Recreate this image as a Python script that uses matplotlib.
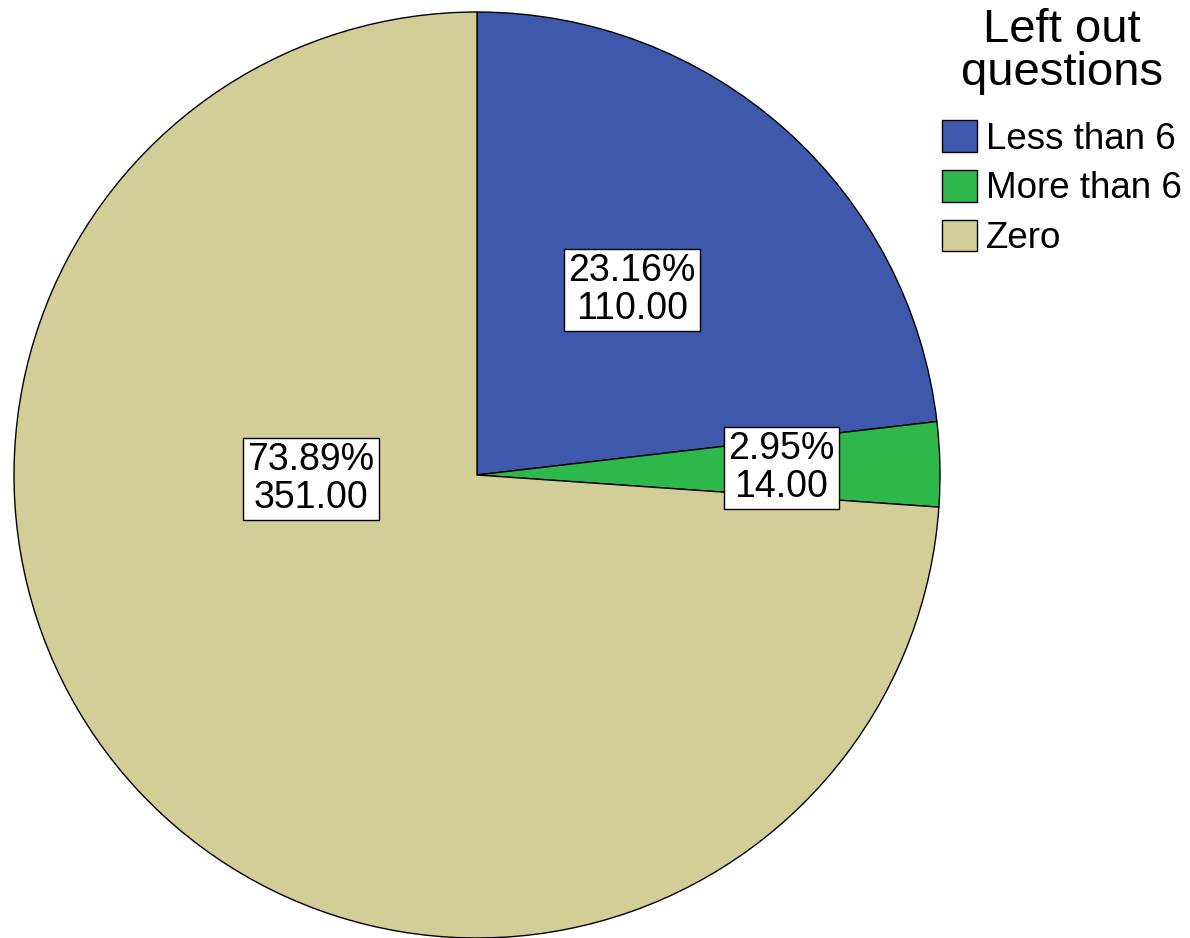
import matplotlib.pyplot as plt

plt.rcParams['font.family'] = ['Liberation Sans', 'DejaVu Sans']

categories = ['Less than 6', 'More than 6', 'Zero']
counts = [110, 14, 351]
percents = [23.16, 2.95, 73.89]
colors = ['#3E58AC', '#2EB84B', '#D3CE97']
# label box centres, in pie data units (radius = 1)
label_pos = [(0.335, 0.40), (0.657, 0.015), (-0.359, -0.009)]

W, H = 1190, 938
fig = plt.figure(figsize=(W / 100, H / 100), dpi=100)

# pie centre and radius in pixels
cx, cy, R = 477, 475, 463
ax = fig.add_axes([(cx - R) / W, (H - cy - R) / H, 2 * R / W, 2 * R / H])

wedges, _ = ax.pie(counts, colors=colors, startangle=90, counterclock=False,
                   radius=1, wedgeprops=dict(edgecolor='black', linewidth=1.0))
ax.set_xlim(-1, 1)
ax.set_ylim(-1, 1)
ax.set_aspect('equal')
ax.axis('off')

for (x, y), p, c in zip(label_pos, percents, counts):
    ax.text(x, y, f"{p:.2f}%\n{c:.2f}", ha='center', va='center', fontsize=27,
            linespacing=1.05,
            bbox=dict(boxstyle='square,pad=0.12', facecolor='white',
                      edgecolor='black', linewidth=1.0))

# legend title drawn on its own so its gap to the entries matches
fig.text(1062 / W, 1 - 8 / H, 'Left out\nquestions', ha='center', va='top',
         fontsize=34, linespacing=0.97)

leg = fig.legend(wedges, categories, loc='upper left',
                 bbox_to_anchor=(942 / W, 1 - 120 / H), frameon=False,
                 fontsize=26.5,
                 handlelength=0.95, handleheight=0.95, handletextpad=0.25,
                 labelspacing=0.36, borderpad=0.0, borderaxespad=0.0)
for h in leg.legend_handles:
    h.set_edgecolor('black')
    h.set_linewidth(1.0)

fig.savefig('out.png', dpi=100)
